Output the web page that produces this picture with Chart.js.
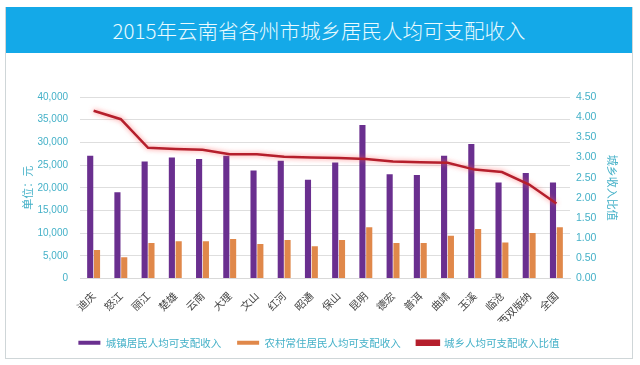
<!DOCTYPE html>
<html>
<head>
<meta charset="utf-8">
<script src="https://cdn.jsdelivr.net/npm/chart.js@4/dist/chart.umd.min.js"></script>
<style>
  body { margin: 0; background: #fff; width: 640px; height: 365px; position: relative; overflow: hidden; }
  #frame { position: absolute; left: 5px; top: 7px; width: 626px; height: 351px; border: 1px solid #cfd6d8; border-top: none; }
  #title { position: absolute; left: 0; top: 0; width: 626px; height: 46px; background: #14a9e8;
    color: #e9fbff; font-family: "Noto Sans CJK SC", sans-serif; font-weight: 300; font-size: 20.5px;
    line-height: 46px; text-align: center; }
  #wrap { position: absolute; left: 6px; top: 53px; width: 626px; height: 305px; }
</style>
</head>
<body>
<div id="frame"><div id="title">2015年云南省各州市城乡居民人均可支配收入</div></div>
<div id="wrap"><canvas id="incomeChart"></canvas></div>
<script>
const regions = ['迪庆', '怒江', '丽江', '楚雄', '云南', '大理', '文山', '红河', '昭通', '保山',
  '昆明', '德宏', '普洱', '曲靖', '玉溪', '临沧', '西双版纳', '全国'];
const urbanIncome = [27060, 19030, 25800, 26690, 26330, 27060, 23800, 25950, 21750, 25580,
  33850, 23000, 22790, 27060, 29650, 21150, 23230, 21150];
const ruralIncome = [6260, 4710, 7800, 8190, 8190, 8700, 7590, 8470, 7080, 8470,
  11280, 7800, 7800, 9430, 10900, 7960, 10020, 11280];
const incomeRatio = [4.16, 3.95, 3.24, 3.21, 3.19, 3.08, 3.08, 3.02, 3.00, 2.99,
  2.96, 2.90, 2.88, 2.87, 2.70, 2.64, 2.33, 1.86];

const teal = '#45b1c8';

// soft red halo round the ratio line
const glowPlugin = {
  id: 'glow',
  beforeDatasetDraw(chart, args) {
    if (chart.data.datasets[args.index].type === 'line') {
      chart.ctx.save();
      chart.ctx.shadowColor = 'rgba(255, 90, 90, 0.75)';
      chart.ctx.shadowBlur = 5;
    }
  },
  afterDatasetDraw(chart, args) {
    if (chart.data.datasets[args.index].type === 'line') {
      chart.ctx.restore();
    }
  },
};

const ctx = document.getElementById('incomeChart').getContext('2d');
new Chart(ctx, {
  data: {
    labels: regions,
    datasets: [
      {
        type: 'bar',
        label: '城镇居民人均可支配收入',
        data: urbanIncome,
        backgroundColor: '#6a2f8f',
        categoryPercentage: 0.5,
        barPercentage: 0.9,
        yAxisID: 'y',
        order: 1,
      },
      {
        type: 'bar',
        label: '农村常住居民人均可支配收入',
        data: ruralIncome,
        backgroundColor: '#e0884a',
        categoryPercentage: 0.5,
        barPercentage: 0.9,
        yAxisID: 'y',
        order: 1,
      },
      {
        type: 'line',
        label: '城乡人均可支配收入比值',
        data: incomeRatio,
        borderColor: '#b51f2c',
        backgroundColor: '#b51f2c',
        borderWidth: 2.5,
        pointRadius: 0,
        tension: 0,
        yAxisID: 'y1',
        order: 0,
      },
    ],
  },
  options: {
    responsive: true,
    maintainAspectRatio: false,
    animation: false,
    layout: { padding: { top: 44, left: 0, right: 0, bottom: 0 } },
    scales: {
      x: {
        grid: { display: false },
        border: { color: '#d9d9d9' },
        ticks: {
          minRotation: 45,
          maxRotation: 45,
          color: '#444',
          padding: 3,
          font: { family: 'Noto Sans CJK SC', size: 10.5 },
        },
        afterFit(scale) { scale.height = 43; },
      },
      y: {
        position: 'left',
        min: 0,
        max: 40000,
        ticks: {
          stepSize: 5000,
          color: teal,
          padding: 12,
          font: { family: 'Liberation Sans', size: 10 },
          callback: (v) => v.toLocaleString('en-US'),
        },
        grid: { color: '#dedede', drawTicks: false },
        border: { display: false },
        title: {
          display: true,
          text: '单位：元',
          color: teal,
          font: { family: 'Noto Sans CJK SC', size: 11 },
          padding: { top: 15, bottom: 0 },
        },
        afterFit(scale) { scale.width = 74; },
      },
      y1: {
        position: 'right',
        min: 0,
        max: 4.5,
        ticks: {
          stepSize: 0.5,
          color: teal,
          padding: 6,
          font: { family: 'Liberation Sans', size: 10.5 },
          callback: (v) => v.toFixed(2),
        },
        grid: { display: false, drawTicks: false },
        border: { display: false },
        title: {
          display: true,
          text: '城乡收入比值',
          color: teal,
          font: { family: 'Noto Sans CJK SC', size: 11 },
          padding: { top: 13, bottom: 0 },
        },
        afterFit(scale) { scale.width = 62; },
      },
    },
    plugins: {
      legend: {
        position: 'bottom',
        labels: {
          boxWidth: 22,
          boxHeight: 4,
          padding: 16,
          color: teal,
          font: { family: 'Noto Sans CJK SC', size: 10.5 },
          sort: (a, b) => a.datasetIndex - b.datasetIndex,
        },
      },
      tooltip: { enabled: false },
    },
  },
  plugins: [glowPlugin],
});
</script>
</body>
</html>
